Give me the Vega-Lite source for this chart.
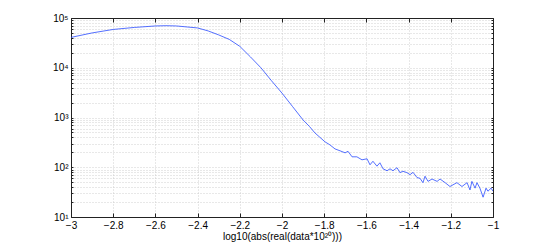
{
  "$schema": "https://vega.github.io/schema/vega-lite/v6.json",
  "autosize": "none",
  "width": 422,
  "height": 199,
  "padding": {"left": 71, "top": 18, "right": 52, "bottom": 28},
  "background": "white",
  "config": {
    "view": {"stroke": null},
    "axis": {"labelFont": "Liberation Sans", "titleFont": "Liberation Sans", "labelFontSize": 10, "titleFontSize": 10, "labelColor": "black", "titleColor": "black", "titleFontWeight": "normal", "domainColor": "#222", "tickColor": "#222", "gridColor": "#c4c4c4", "gridDash": [1, 2], "gridWidth": 0.8}
  },
  "data": {"values": [
    {"x": -3.0, "y": 40738}, {"x": -2.9, "y": 50119}, {"x": -2.8, "y": 58884}, {"x": -2.7, "y": 64565},
    {"x": -2.6, "y": 69183}, {"x": -2.55, "y": 69984}, {"x": -2.5, "y": 69183}, {"x": -2.45, "y": 66069},
    {"x": -2.4, "y": 63096}, {"x": -2.35, "y": 54954}, {"x": -2.3, "y": 45709}, {"x": -2.25, "y": 37154},
    {"x": -2.2, "y": 26915}, {"x": -2.15, "y": 16596}, {"x": -2.1, "y": 10000}, {"x": -2.05, "y": 5495},
    {"x": -2.0, "y": 3090}, {"x": -1.95, "y": 1660}, {"x": -1.9, "y": 891}, {"x": -1.87, "y": 661},
    {"x": -1.844, "y": 490}, {"x": -1.82, "y": 398}, {"x": -1.796, "y": 324}, {"x": -1.773, "y": 282},
    {"x": -1.749, "y": 234}, {"x": -1.725, "y": 214}, {"x": -1.701, "y": 195}, {"x": -1.687, "y": 209},
    {"x": -1.668, "y": 162}, {"x": -1.645, "y": 162}, {"x": -1.621, "y": 141}, {"x": -1.597, "y": 148},
    {"x": -1.583, "y": 112}, {"x": -1.569, "y": 132}, {"x": -1.55, "y": 105}, {"x": -1.536, "y": 123},
    {"x": -1.521, "y": 93}, {"x": -1.502, "y": 85}, {"x": -1.488, "y": 93}, {"x": -1.474, "y": 85},
    {"x": -1.455, "y": 98}, {"x": -1.441, "y": 78}, {"x": -1.427, "y": 83}, {"x": -1.408, "y": 78},
    {"x": -1.393, "y": 71}, {"x": -1.379, "y": 79}, {"x": -1.36, "y": 62}, {"x": -1.346, "y": 60},
    {"x": -1.332, "y": 49}, {"x": -1.322, "y": 66}, {"x": -1.308, "y": 52}, {"x": -1.289, "y": 58},
    {"x": -1.265, "y": 52}, {"x": -1.251, "y": 58}, {"x": -1.227, "y": 49}, {"x": -1.204, "y": 41},
    {"x": -1.171, "y": 49}, {"x": -1.147, "y": 41}, {"x": -1.123, "y": 49}, {"x": -1.109, "y": 35},
    {"x": -1.1, "y": 52}, {"x": -1.085, "y": 38}, {"x": -1.076, "y": 49}, {"x": -1.062, "y": 38},
    {"x": -1.047, "y": 25}, {"x": -1.033, "y": 38}, {"x": -1.024, "y": 33}, {"x": -1.009, "y": 38},
    {"x": -1.0, "y": 33}
  ]},
  "layer": [
    {
      "mark": {"type": "line", "color": "#2a4bff", "strokeWidth": 0.8, "clip": true},
      "encoding": {
        "x": {"field": "x", "type": "quantitative", "scale": {"domain": [-3, -1], "nice": false, "zero": false},
          "axis": {"orient": "bottom", "values": [-3, -2.8, -2.6, -2.4, -2.2, -2, -1.8, -1.6, -1.4, -1.2, -1], "format": "~g", "tickSize": -4, "labelPadding": 7, "labelFlush": false, "title": "log10(abs(real(data*10²⁰)))", "titlePadding": 1, "grid": true}},
        "y": {"field": "y", "type": "quantitative", "scale": {"type": "log", "domain": [10, 100000], "nice": false},
          "axis": {"orient": "left", "values": [10, 20, 30, 40, 50, 60, 70, 80, 90, 100, 200, 300, 400, 500, 600, 700, 800, 900, 1000, 2000, 3000, 4000, 5000, 6000, 7000, 8000, 9000, 10000, 20000, 30000, 40000, 50000, 60000, 70000, 80000, 90000, 100000],
            "labelExpr": "datum.value == 10 ? '10¹' : datum.value == 100 ? '10²' : datum.value == 1000 ? '10³' : datum.value == 10000 ? '10⁴' : datum.value == 100000 ? '10⁵' : ''",
            "tickSize": -2, "labelPadding": 5, "labelFlush": false, "labelOverlap": false, "title": null, "grid": true}}
      }
    },
    {
      "mark": {"type": "line", "opacity": 0},
      "encoding": {
        "x": {"field": "x", "type": "quantitative", "scale": {"domain": [-3, -1], "nice": false, "zero": false},
          "axis": {"orient": "top", "values": [-3, -2.8, -2.6, -2.4, -2.2, -2, -1.8, -1.6, -1.4, -1.2, -1], "labels": false, "tickSize": -4, "title": null, "grid": false}},
        "y": {"field": "y", "type": "quantitative", "scale": {"type": "log", "domain": [10, 100000], "nice": false},
          "axis": {"orient": "right", "values": [10, 20, 30, 40, 50, 60, 70, 80, 90, 100, 200, 300, 400, 500, 600, 700, 800, 900, 1000, 2000, 3000, 4000, 5000, 6000, 7000, 8000, 9000, 10000, 20000, 30000, 40000, 50000, 60000, 70000, 80000, 90000, 100000], "labels": false, "tickSize": -2, "title": null, "grid": false}}
      }
    }
  ],
  "resolve": {"axis": {"x": "independent", "y": "independent"}}
}
